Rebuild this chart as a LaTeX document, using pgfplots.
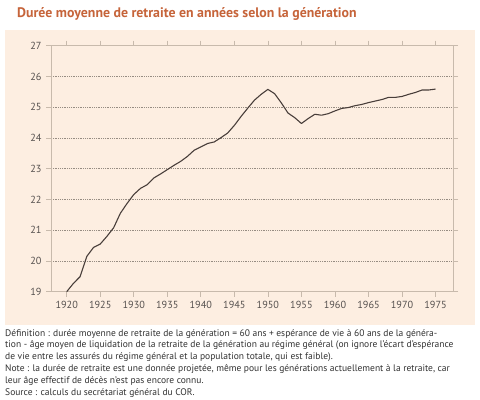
\documentclass[border=0pt]{standalone}
\usepackage{pgfplots}
\pgfplotsset{compat=1.18}
\usepackage{fontspec}
\setmainfont{PT Sans}
\definecolor{panel}{RGB}{253,238,225}
\definecolor{framec}{RGB}{200,186,172}
\definecolor{gridc}{RGB}{150,140,130}
\definecolor{titlec}{RGB}{198,100,58}
\definecolor{linec}{RGB}{72,62,58}
\definecolor{txt}{RGB}{50,50,50}
\definecolor{tickc}{RGB}{85,80,78}
\pgfplotstableread{
year val
1920 19.00
1921 19.27
1922 19.49
1923 20.15
1924 20.44
1925 20.55
1926 20.80
1927 21.08
1928 21.55
1929 21.87
1930 22.16
1931 22.36
1932 22.48
1933 22.70
1934 22.83
1935 22.97
1936 23.11
1937 23.24
1938 23.40
1939 23.60
1940 23.71
1941 23.82
1942 23.87
1943 24.01
1944 24.16
1945 24.41
1946 24.70
1947 24.97
1948 25.23
1949 25.42
1950 25.58
1951 25.44
1952 25.14
1953 24.81
1954 24.66
1955 24.47
1956 24.63
1957 24.77
1958 24.74
1959 24.79
1960 24.88
1961 24.96
1962 24.99
1963 25.05
1964 25.09
1965 25.15
1966 25.20
1967 25.25
1968 25.32
1969 25.32
1970 25.35
1971 25.42
1972 25.48
1973 25.56
1974 25.56
1975 25.59
}\datatable
\begin{document}
\begin{tikzpicture}
\fill[white] (0bp,0bp) rectangle (480bp,-400bp);
\fill[panel] (5bp,-30bp) rectangle (475bp,-325bp);
\node[anchor=west, inner sep=0pt, text=titlec, font=\fontsize{13.9}{16}\selectfont\bfseries] at (17bp,-14bp) {Durée moyenne de retraite en années selon la génération};
\begin{axis}[
  at={(51bp,-291.7bp)}, anchor=south west,
  scale only axis, width=402bp, height=246bp,
  xmin=1917.66, xmax=1977.6, ymin=19, ymax=27,
  xtick={1920,1925,...,1975}, ytick={19,20,...,27},
  axis line style={draw=framec, line width=0.9pt},
  tick style={draw=framec, line width=0.7pt},
  tick align=outside, major tick length=5bp,
  ymajorgrids, grid style={draw=gridc, line width=0.7pt, dash pattern=on 0.7pt off 1.1pt},
  /pgf/number format/1000 sep={},
  /pgf/number format/assume math mode=true,
  ticklabel style={font=\fontsize{10.3}{12}\selectfont, text=tickc},
  xticklabel style={yshift=-1bp},
  yticklabel style={xshift=-1bp},
]
\addplot[linec, line width=1.1pt, line join=round] table[x=year, y=val] {\datatable};
\end{axis}
\begin{scope}[every node/.style={anchor=base west, inner sep=0pt, text=txt, font=\fontsize{9.55}{11}\selectfont}]
\node at (5bp,-336bp) {Définition : durée moyenne de retraite de la génération = 60 ans + espérance de vie à 60 ans de la généra-};
\node at (5bp,-347.5bp) {tion - âge moyen de liquidation de la retraite de la génération au régime général (on ignore l’écart d’espérance};
\node at (5bp,-359bp) {de vie entre les assurés du régime général et la population totale, qui est faible).};
\node at (5bp,-371.5bp) {Note : la durée de retraite est une donnée projetée, même pour les générations actuellement à la retraite, car};
\node at (5bp,-383bp) {leur âge effectif de décès n’est pas encore connu.};
\node at (5bp,-395.5bp) {Source : calculs du secrétariat général du COR.};
\end{scope}
\end{tikzpicture}
\end{document}
